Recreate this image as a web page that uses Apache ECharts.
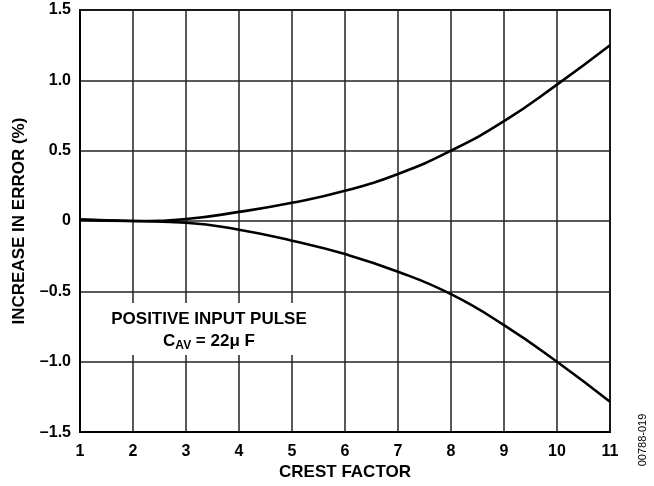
<!DOCTYPE html>
<html>
<head>
<meta charset="utf-8">
<script src="https://cdn.jsdelivr.net/npm/echarts@6/dist/echarts.min.js"></script>
<style>
  html, body { margin: 0; padding: 0; background: #fff; }
  #chart { width: 654px; height: 486px; }
</style>
</head>
<body>
<div id="chart"></div>
<script>
// crest factor (x) and increase in error (%)
const crestFactor = [1, 2, 3, 4, 5, 6, 7, 8, 9, 10, 11]
const upperCurve = [0.01, 0, 0.015, 0.065, 0.13, 0.215, 0.335, 0.5, 0.71, 0.97, 1.25]
const lowerCurve = [0.01, 0, -0.012, -0.062, -0.14, -0.235, -0.36, -0.52, -0.74, -1.0, -1.285]
const yTicks = ['–1.5', '–1.0', '–0.5', '0', '0.5', '1.0', '1.5']

const font = 'Liberation Sans, Arial, sans-serif'
const chart = echarts.init(document.getElementById('chart'))

function pairs(ys) {
  return crestFactor.map((x, i) => [x, ys[i]])
}

const option = {
  animation: false,
  grid: {
    left: 80,
    right: 44,
    top: 10,
    bottom: 52,
    show: true,
    borderColor: '#000',
    borderWidth: 2
  },
  xAxis: {
    type: 'value',
    min: 1,
    max: 11,
    interval: 1,
    name: 'CREST FACTOR',
    nameLocation: 'middle',
    nameGap: 31,
    nameTextStyle: { fontFamily: font, fontWeight: 'bold', fontSize: 17, color: '#000' },
    axisLine: { onZero: false, lineStyle: { color: '#000', width: 2 } },
    axisTick: { show: false },
    axisLabel: { fontFamily: font, fontWeight: 'bold', fontSize: 16, color: '#000', margin: 11 },
    splitLine: { lineStyle: { color: '#222', width: 1.5 } }
  },
  yAxis: {
    type: 'value',
    min: -1.5,
    max: 1.5,
    interval: 0.5,
    name: 'INCREASE IN ERROR (%)',
    nameLocation: 'middle',
    nameGap: 52,
    nameTextStyle: { fontFamily: font, fontWeight: 'bold', fontSize: 17, color: '#000' },
    axisLine: { lineStyle: { color: '#000', width: 2 } },
    axisTick: { show: false },
    axisLabel: {
      fontFamily: font, fontWeight: 'bold', fontSize: 16, color: '#000', margin: 9,
      formatter: v => yTicks[Math.round((v + 1.5) / 0.5)]
    },
    splitLine: { lineStyle: { color: '#222', width: 1.5 } }
  },
  graphic: [
    {
      type: 'rect',
      shape: { x: 103, y: 303, width: 212, height: 52 },
      style: { fill: '#fff' },
      z: 5
    },
    {
      type: 'text',
      x: 209,
      y: 319,
      z: 6,
      style: {
        text: 'POSITIVE INPUT PULSE',
        fontFamily: font, fontWeight: 'bold', fontSize: 17, fill: '#000',
        align: 'center', verticalAlign: 'middle'
      }
    },
    {
      type: 'text',
      x: 209,
      y: 341,
      z: 6,
      style: {
        text: '{m|C}{s|AV}{m| = 22μ F}',
        align: 'center', verticalAlign: 'middle',
        rich: {
          m: { fontFamily: font, fontWeight: 'bold', fontSize: 17, fill: '#000' },
          s: { fontFamily: font, fontWeight: 'bold', fontSize: 12, fill: '#000', padding: [9, 0, 0, 0] }
        }
      }
    },
    {
      type: 'text',
      x: 643,
      y: 440,
      rotation: Math.PI / 2,
      style: {
        text: '00788-019',
        fontFamily: font, fontSize: 11, fill: '#000',
        align: 'center', verticalAlign: 'middle'
      }
    }
  ],
  series: [
    {
      type: 'line',
      data: pairs(upperCurve),
      smooth: 0.5,
      showSymbol: false,
      lineStyle: { color: '#000', width: 2.6 },
      z: 3
    },
    {
      type: 'line',
      data: pairs(lowerCurve),
      smooth: 0.5,
      showSymbol: false,
      lineStyle: { color: '#000', width: 2.6 },
      z: 3
    }
  ]
}

chart.setOption(option)
</script>
</body>
</html>
